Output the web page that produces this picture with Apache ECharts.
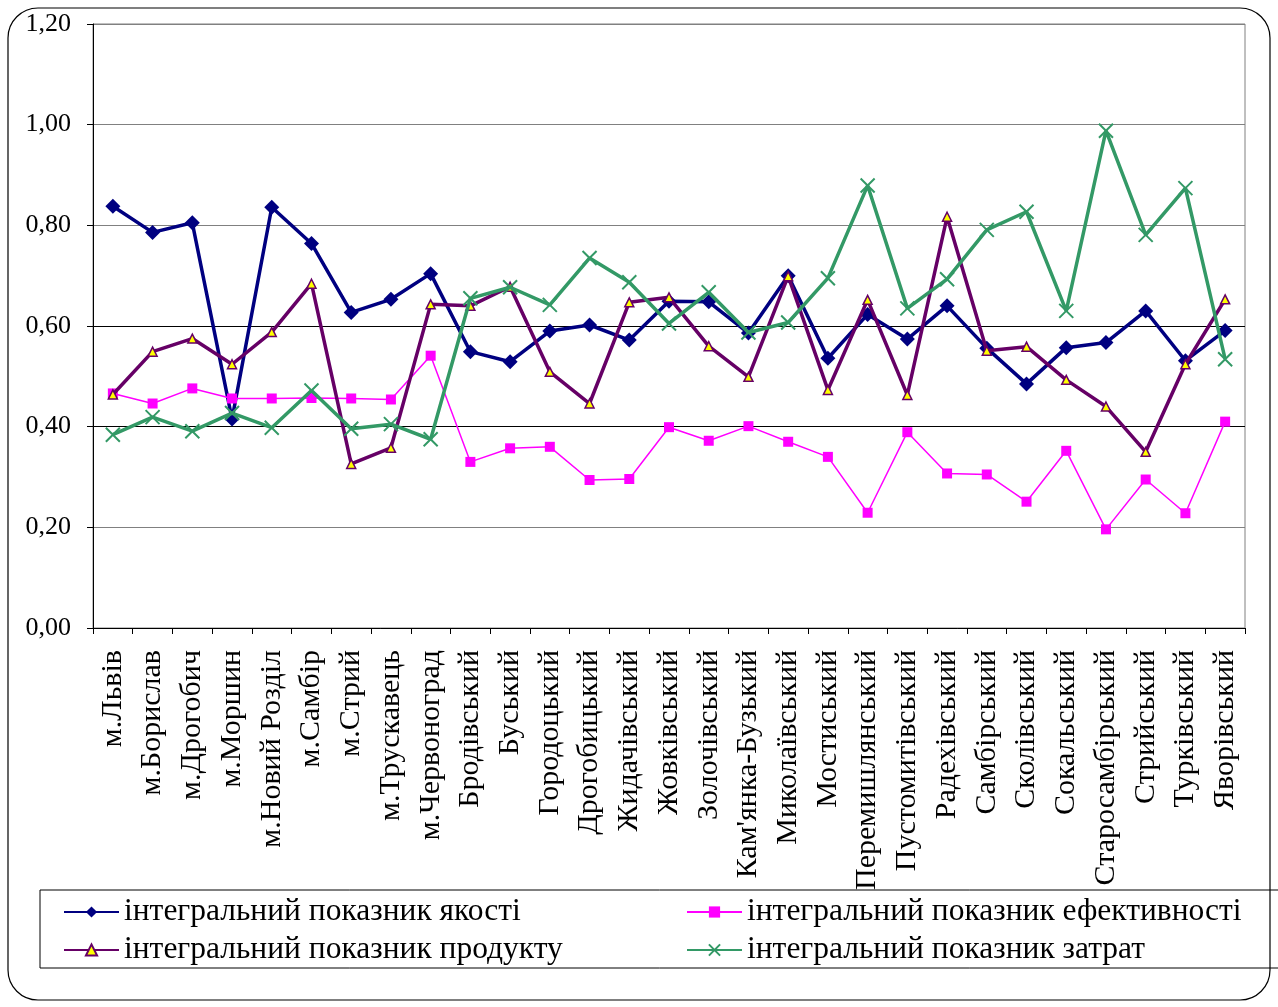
<!DOCTYPE html>
<html>
<head>
<meta charset="utf-8">
<script src="https://cdn.jsdelivr.net/npm/echarts@6/dist/echarts.min.js"></script>
<style>
  html, body { margin: 0; padding: 0; background: #fff; }
  #chart { width: 1278px; height: 1007px; }
</style>
</head>
<body>
<div id="chart"></div>
<script>
// Districts and cities of Lviv oblast
const categories = [
  'м.Львів', 'м.Борислав', 'м.Дрогобич', 'м.Моршин', 'м.Новий Розділ', 'м.Самбір',
  'м.Стрий', 'м.Трускавець', 'м.Червоноград', 'Бродівський', 'Буський', 'Городоцький',
  'Дрогобицький', 'Жидачівський', 'Жовківський', 'Золочівський', "Кам'янка-Бузький",
  'Миколаївський', 'Мостиський', 'Перемишлянський', 'Пустомитівський', 'Радехівський',
  'Самбірський', 'Сколівський', 'Сокальський', 'Старосамбірський', 'Стрийський',
  'Турківський', 'Яворівський'
];

// Integral indicators
const qualityValues = [
  0.838, 0.786, 0.805, 0.415, 0.836, 0.764, 0.627, 0.653, 0.704, 0.549, 0.529, 0.590,
  0.602, 0.572, 0.649, 0.648, 0.586, 0.700, 0.536, 0.623, 0.574, 0.640, 0.556, 0.485,
  0.557, 0.567, 0.630, 0.531, 0.591
];
const efficiencyValues = [
  0.466, 0.446, 0.476, 0.456, 0.456, 0.457, 0.456, 0.454, 0.541, 0.330, 0.357, 0.360,
  0.294, 0.296, 0.399, 0.372, 0.401, 0.370, 0.340, 0.229, 0.389, 0.307, 0.305, 0.251,
  0.352, 0.196, 0.295, 0.228, 0.410
];
const productValues = [
  0.464, 0.549, 0.575, 0.524, 0.588, 0.684, 0.326, 0.358, 0.643, 0.640, 0.678, 0.509,
  0.446, 0.647, 0.657, 0.560, 0.499, 0.699, 0.473, 0.652, 0.463, 0.817, 0.551, 0.559,
  0.493, 0.440, 0.350, 0.524, 0.653
];
const costValues = [
  0.384, 0.419, 0.391, 0.427, 0.398, 0.472, 0.396, 0.405, 0.375, 0.655, 0.677, 0.642,
  0.735, 0.687, 0.605, 0.667, 0.587, 0.607, 0.695, 0.879, 0.635, 0.693, 0.791, 0.827,
  0.630, 0.988, 0.781, 0.874, 0.534
];

const seriesNames = [
  'інтегральний показник якості',
  'інтегральний показник ефективності',
  'інтегральний показник продукту',
  'інтегральний показник затрат'
];

const FONT = '"Liberation Serif", "Times New Roman", serif';

const chart = echarts.init(document.getElementById('chart'), null, { renderer: 'canvas' });

const legendText = { fontFamily: FONT, fontSize: 31.5, color: '#000' };
function legendAt(name, left, top) {
  return {
    data: [name], left: left, top: top, padding: 0,
    itemWidth: 55, itemHeight: 14, itemGap: 0,
    textStyle: legendText
  };
}

const option = {
  animation: false,
  backgroundColor: '#fff',
  graphic: [
    {
      type: 'rect', z: -1,
      shape: { x: 8, y: 8, width: 1262, height: 992, r: 30 },
      style: { fill: 'none', stroke: '#000', lineWidth: 1.2 }
    },
    {
      type: 'rect', z: -1,
      shape: { x: 40, y: 890, width: 1240, height: 78 },
      style: { fill: 'none', stroke: '#000', lineWidth: 1 }
    }
  ],
  legend: [
    legendAt(seriesNames[0], 63, 896),
    legendAt(seriesNames[1], 686, 896),
    legendAt(seriesNames[2], 63, 934),
    legendAt(seriesNames[3], 686, 934)
  ],
  grid: {
    left: 93, right: 33, top: 24, bottom: 379,
    show: true, borderColor: '#808080', borderWidth: 1, containLabel: false
  },
  xAxis: {
    type: 'category',
    data: categories,
    boundaryGap: true,
    axisLine: { lineStyle: { color: '#000', width: 1 } },
    axisTick: { show: true, length: 6, inside: false, alignWithLabel: false, interval: 0,
                lineStyle: { color: '#000' } },
    axisLabel: {
      interval: 0, rotate: 90, margin: 22,
      fontFamily: FONT, fontSize: 30, color: '#000'
    },
    splitLine: { show: false }
  },
  yAxis: {
    type: 'value',
    min: 0, max: 1.2, interval: 0.2,
    axisLine: { show: true, lineStyle: { color: '#000', width: 1 } },
    axisTick: { show: true, length: 6, lineStyle: { color: '#000' } },
    axisLabel: {
      margin: 22, fontFamily: FONT, fontSize: 26, color: '#000',
      formatter: v => v.toFixed(2).replace('.', ',')
    },
    splitLine: {
      show: true,
      lineStyle: {
        color: ['#808080', '#808080', '#000', '#000', '#808080', '#808080', '#808080'],
        width: 1
      }
    }
  },
  series: [
    {
      name: seriesNames[0], type: 'line', data: qualityValues,
      symbol: 'diamond', symbolSize: 15, showAllSymbol: true,
      lineStyle: { color: '#000080', width: 3.5 },
      itemStyle: { color: '#000080' },
      z: 2
    },
    {
      name: seriesNames[1], type: 'line', data: efficiencyValues,
      symbol: 'rect', symbolSize: 10, showAllSymbol: true,
      lineStyle: { color: '#FF00FF', width: 1.5 },
      itemStyle: { color: '#FF00FF' },
      z: 3
    },
    {
      name: seriesNames[2], type: 'line', data: productValues,
      symbol: 'triangle', symbolSize: 9, showAllSymbol: true,
      lineStyle: { color: '#660066', width: 3.5 },
      itemStyle: { color: '#FFFF00', borderColor: '#660066', borderWidth: 1.5 },
      z: 4
    },
    {
      name: seriesNames[3], type: 'line', data: costValues,
      symbol: 'path://M0,0L10,10M10,0L0,10', symbolSize: 14, showAllSymbol: true,
      lineStyle: { color: '#339966', width: 3.5 },
      itemStyle: { color: '#339966', borderColor: '#339966', borderWidth: 2 },
      z: 5
    }
  ]
};

chart.setOption(option);
</script>
</body>
</html>
